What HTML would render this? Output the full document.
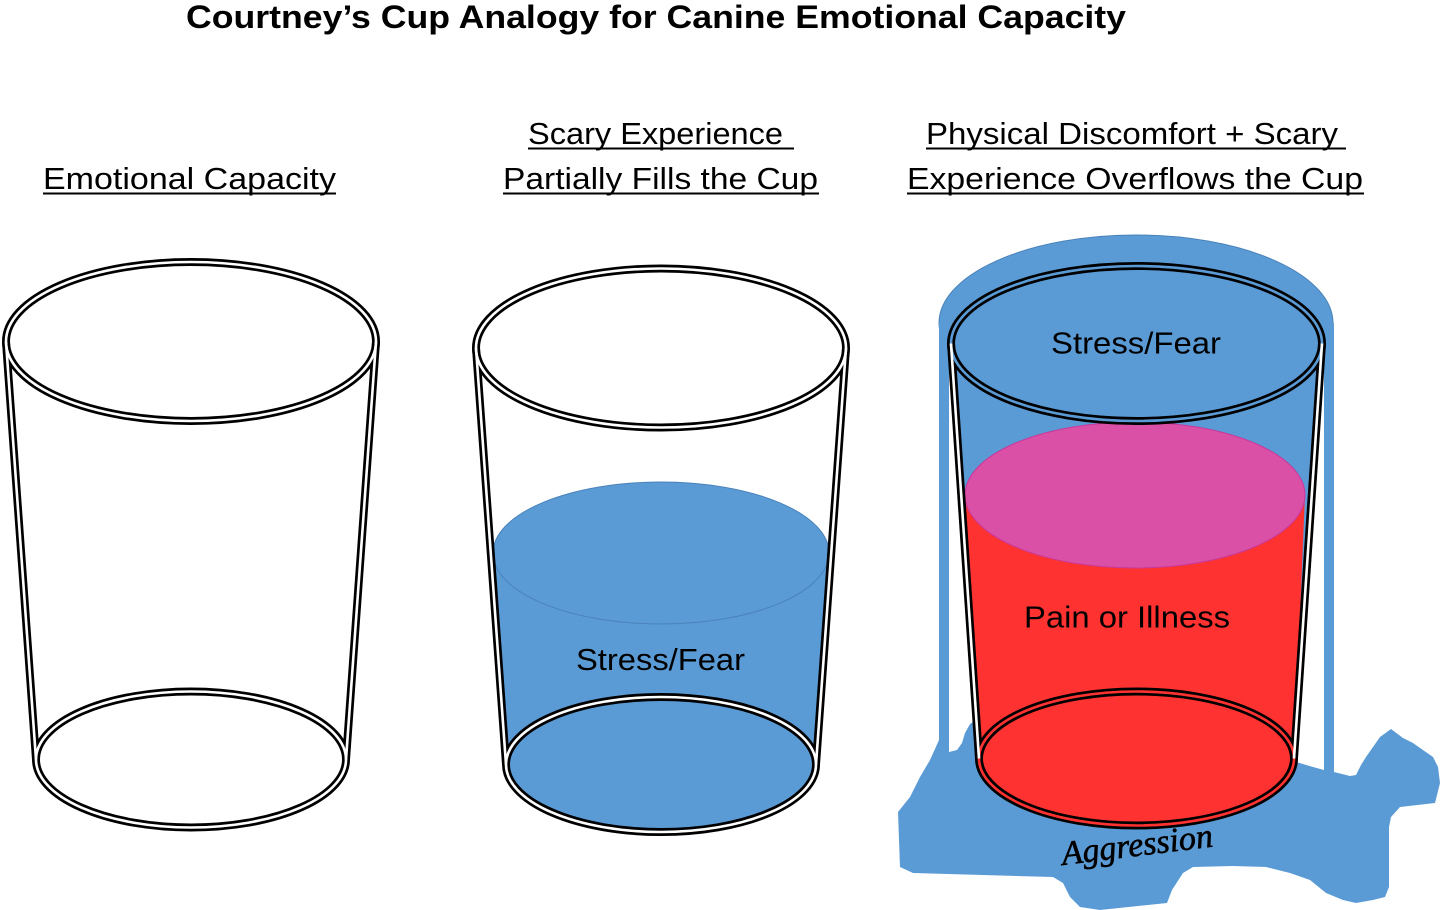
<!DOCTYPE html>
<html>
<head>
<meta charset="utf-8">
<style>
html,body{margin:0;padding:0;background:#fff;}
svg{display:block;}
text{font-family:"Liberation Sans", sans-serif;fill:#000;}
</style>
</head>
<body>
<svg width="1443" height="910" viewBox="0 0 1443 910" xmlns="http://www.w3.org/2000/svg">
  <rect x="0" y="0" width="1443" height="910" fill="#fff"/>

  <!-- Title -->
  <text x="186" y="28" font-size="32" font-weight="bold" textLength="940" lengthAdjust="spacingAndGlyphs">Courtney’s Cup Analogy for Canine Emotional Capacity</text>

  <!-- Headings -->
  <text x="43" y="189" font-size="30.5" textLength="293" lengthAdjust="spacingAndGlyphs">Emotional Capacity</text>
  <rect x="43" y="192.5" width="293" height="2"/>

  <text x="528" y="144" font-size="30.5" textLength="255" lengthAdjust="spacingAndGlyphs">Scary Experience</text>
  <rect x="528" y="147.5" width="266" height="2"/>
  <text x="503" y="189" font-size="30.5" textLength="315" lengthAdjust="spacingAndGlyphs">Partially Fills the Cup</text>
  <rect x="503" y="192.5" width="316" height="2"/>

  <text x="926" y="144" font-size="30.5" textLength="412" lengthAdjust="spacingAndGlyphs">Physical Discomfort + Scary</text>
  <rect x="926" y="147.5" width="420" height="2"/>
  <text x="907" y="189" font-size="30.5" textLength="456" lengthAdjust="spacingAndGlyphs">Experience Overflows the Cup</text>
  <rect x="907" y="192.5" width="457" height="2"/>

  <!-- ============ CUP 1 ============ -->
  <g fill="none" stroke="#000" stroke-width="8">
    <ellipse cx="191" cy="341.5" rx="185" ry="79.5"/>
    <ellipse cx="191" cy="759.5" rx="155" ry="68"/>
    <line x1="6" y1="342" x2="36" y2="759.5"/>
    <line x1="376" y1="342" x2="346" y2="759.5"/>
  </g>
  <g fill="none" stroke="#fff" stroke-width="2.6">
    <ellipse cx="191" cy="341.5" rx="185" ry="79.5"/>
    <ellipse cx="191" cy="759.5" rx="155" ry="68"/>
    <line x1="6" y1="342" x2="36" y2="759.5"/>
    <line x1="376" y1="342" x2="346" y2="759.5"/>
  </g>

  <!-- ============ CUP 2 ============ -->
  <path d="M493,553 L506,764.5 A155 68 0 0 0 816,764.5 L829,553 Z" fill="#5B9BD5"/>
  <ellipse cx="661" cy="553" rx="168" ry="71" fill="#5B9BD5" stroke="#4A82BA" stroke-width="1"/>
  <g fill="none" stroke="#000" stroke-width="8">
    <ellipse cx="661" cy="348" rx="185" ry="79.5"/>
    <ellipse cx="661" cy="764.5" rx="155" ry="67.5"/>
    <line x1="476" y1="348" x2="506" y2="764.5"/>
    <line x1="846" y1="348" x2="816" y2="764.5"/>
  </g>
  <g fill="none" stroke="#fff" stroke-width="2.6">
    <ellipse cx="661" cy="348" rx="185" ry="79.5"/>
    <ellipse cx="661" cy="764.5" rx="155" ry="67.5"/>
    <line x1="476" y1="348" x2="506" y2="764.5"/>
    <line x1="846" y1="348" x2="816" y2="764.5"/>
  </g>
  <text x="576" y="670" font-size="30.5" textLength="169" lengthAdjust="spacingAndGlyphs">Stress/Fear</text>

  <!-- ============ CUP 3 ============ -->
  <ellipse cx="1136" cy="323" rx="197" ry="88" fill="#5B9BD5" stroke="#4A82BA" stroke-width="1"/>
  <rect x="939" y="323" width="10" height="430" fill="#5B9BD5"/>
  <rect x="1324" y="323" width="10" height="452" fill="#5B9BD5"/>
  <path fill="#5B9BD5" d="M939,740 L930,760 L920,777 L910,797 L898,812 L899,840 L900,867 L913,873 L1053,877 L1063,883 L1070,897 L1080,907 L1100,910 L1167,903 L1172,890 L1183,873 L1193,867 L1233,866 L1266,867 L1290,873 L1310,880 L1326,893 L1343,900 L1356,903 L1373,900 L1385,897 L1389,887 L1389,827 L1391,817 L1400,807 L1435,803 L1440,783 L1438,767 L1433,757 L1423,750 L1413,743 L1403,738 L1391,729 L1380,737 L1366,757 L1361,765 L1356,775 L1350,776 L1334,772 L1324,770 L1313,767 L1296,762 L1136,800 L973,722 L970,724 L965,733 L962,743 L957,750 L949,752 L939,752 Z"/>
  <path d="M951,343.5 L977,758.5 A159.5 67 0 0 0 1296,758.5 L1322,343.5 Z" fill="#5B9BD5"/>
  <path d="M965,495 L979,758.5 A157.5 67 0 0 0 1294,758.5 L1305,495 Z" fill="#FF3232"/>
  <ellipse cx="1135" cy="495" rx="170" ry="73" fill="#DA50A6" stroke="#C8389A" stroke-width="1"/>
  <g fill="none" stroke="#000" stroke-width="8">
    <ellipse cx="1136.5" cy="343.5" rx="185.5" ry="77.5"/>
    <ellipse cx="1136.5" cy="758.5" rx="157.5" ry="67"/>
    <line x1="951" y1="343.5" x2="979" y2="758.5"/>
    <line x1="1322" y1="343.5" x2="1294" y2="758.5"/>
  </g>
  <ellipse cx="1136.5" cy="343.5" rx="185.5" ry="77.5" fill="none" stroke="#5B9BD5" stroke-width="2.6"/>
  <ellipse cx="1136.5" cy="758.5" rx="157.5" ry="67" fill="none" stroke="#FF3232" stroke-width="2.6"/>
  <g stroke="#fff" stroke-width="2.6">
    <line x1="951" y1="343.5" x2="979" y2="758.5"/>
    <line x1="1322" y1="343.5" x2="1294" y2="758.5"/>
  </g>
  <text x="1051" y="353.5" font-size="30.5" textLength="170" lengthAdjust="spacingAndGlyphs">Stress/Fear</text>
  <text x="1024" y="627.5" font-size="30.5" textLength="206" lengthAdjust="spacingAndGlyphs">Pain or Illness</text>

  <!-- Aggression -->
  <text x="1063" y="865" font-size="34" font-style="italic" textLength="152" lengthAdjust="spacingAndGlyphs" transform="rotate(-7 1063 865)" stroke="#000" stroke-width="0.6" style="font-family:'Liberation Serif', serif;">Aggression</text>
</svg>
</body>
</html>
